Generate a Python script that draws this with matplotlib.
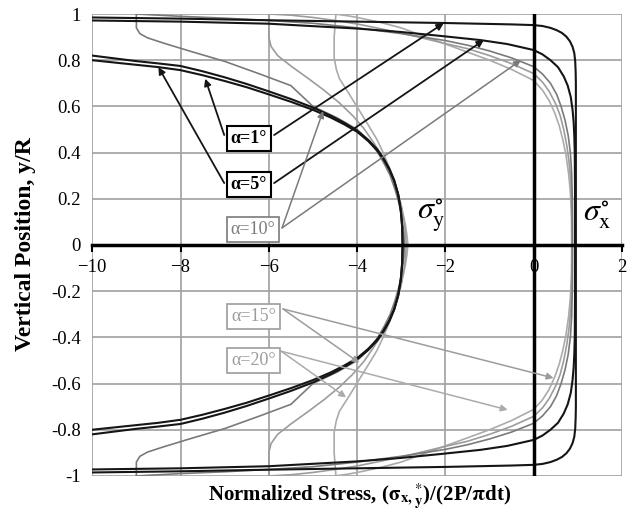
import matplotlib
matplotlib.use('Agg')
import matplotlib.pyplot as plt

plt.rcParams['font.family'] = ['Liberation Serif', 'DejaVu Serif']
plt.rcParams['mathtext.fontset'] = 'stix'

# sigma_y along the loaded diameter (upper half, mirrored below)
sy1_x = [-10, -9.5, -9, -8.5, -8, -7.5, -7, -6.5, -6, -5.5, -5, -4.6, -4.3, -4.0, -3.75, -3.55, -3.4, -3.27, -3.16, -3.07, -3.01, -2.98, -2.97]
sy1_y = [0.82, 0.808, 0.796, 0.786, 0.775, 0.752, 0.726, 0.697, 0.665, 0.632, 0.595, 0.56, 0.53, 0.495, 0.455, 0.415, 0.375, 0.33, 0.28, 0.22, 0.15, 0.08, 0.0]
sy5_x = [-10, -9.5, -9, -8.5, -8, -7.5, -7, -6.5, -6, -5.5, -5, -4.6, -4.3, -4.0, -3.75, -3.55, -3.4, -3.27, -3.16, -3.07, -3.01, -2.98, -2.97]
sy5_y = [0.80, 0.79, 0.78, 0.77, 0.757, 0.735, 0.71, 0.683, 0.652, 0.62, 0.585, 0.552, 0.523, 0.49, 0.45, 0.41, 0.37, 0.326, 0.277, 0.218, 0.148, 0.079, 0.0]
sy10_x = [-9.0, -9.0, -8.92, -8.75, -8.4, -7.8, -7.0, -6.2, -5.5, -5.0, -4.45, -4.0, -3.72, -3.53, -3.38, -3.25, -3.14, -3.05, -2.98, -2.94, -2.93]
sy10_y = [1.0, 0.94, 0.915, 0.897, 0.875, 0.84, 0.795, 0.74, 0.69, 0.60, 0.55, 0.50, 0.45, 0.40, 0.35, 0.30, 0.24, 0.18, 0.11, 0.05, 0.0]
sy15_x = [-6.0, -6.0, -5.95, -5.8, -5.5, -5.1, -4.75, -4.4, -4.1, -3.85, -3.65, -3.48, -3.33, -3.21, -3.1, -3.01, -2.94, -2.9, -2.89]
sy15_y = [1.0, 0.90, 0.86, 0.82, 0.775, 0.72, 0.67, 0.615, 0.56, 0.505, 0.45, 0.40, 0.35, 0.30, 0.24, 0.18, 0.11, 0.05, 0.0]
sy20_x = [-4.48, -4.52, -4.52, -4.47, -4.4, -4.2, -3.96, -3.75, -3.56, -3.41, -3.28, -3.16, -3.06, -2.98, -2.91, -2.87, -2.85]
sy20_y = [1.0, 0.9, 0.81, 0.76, 0.72, 0.66, 0.585, 0.52, 0.46, 0.40, 0.34, 0.28, 0.21, 0.15, 0.09, 0.04, 0.0]

# sigma_x along the loaded diameter (upper half, mirrored below)
sx1_x = [-10, -8, -6, -4, -2, -1, -0.5, 0, 0.2, 0.38, 0.52, 0.64, 0.74, 0.82, 0.88, 0.92, 0.94, 0.95, 0.955, 0.955, 0.955]
sx1_y = [0.985, 0.98, 0.973, 0.967, 0.961, 0.957, 0.955, 0.952, 0.948, 0.94, 0.93, 0.918, 0.902, 0.882, 0.858, 0.83, 0.795, 0.75, 0.70, 0.40, 0.0]
sx5_x = [-10, -8, -6, -4, -3, -2.1, -1.2, -0.6, 0, 0.2, 0.38, 0.55, 0.68, 0.77, 0.84, 0.88, 0.905, 0.92, 0.93, 0.935, 0.935]
sx5_y = [0.972, 0.967, 0.958, 0.937, 0.922, 0.905, 0.887, 0.87, 0.844, 0.825, 0.80, 0.77, 0.73, 0.69, 0.64, 0.585, 0.53, 0.47, 0.40, 0.25, 0.0]
sx10_x = [-9, -8, -7, -6, -5, -4, -3, -2, -1.5, -1, -0.5, 0, 0.2, 0.38, 0.52, 0.62, 0.71, 0.78, 0.83, 0.86, 0.875, 0.88]
sx10_y = [1.0, 0.99, 0.982, 0.972, 0.96, 0.94, 0.915, 0.885, 0.865, 0.84, 0.81, 0.772, 0.74, 0.70, 0.652, 0.60, 0.54, 0.475, 0.40, 0.31, 0.19, 0.0]
sx15_x = [-6, -5.5, -5, -4.5, -4, -3, -2, -1.5, -1, -0.5, 0, 0.2, 0.35, 0.5, 0.6, 0.68, 0.75, 0.8, 0.84, 0.865, 0.87]
sx15_y = [1.0, 0.995, 0.985, 0.972, 0.957, 0.918, 0.872, 0.85, 0.82, 0.785, 0.742, 0.705, 0.665, 0.61, 0.56, 0.50, 0.43, 0.36, 0.28, 0.16, 0.0]
sx20_x = [-4.5, -4.2, -4, -3.5, -3, -2.5, -2, -1.5, -1, -0.5, 0, 0.2, 0.35, 0.48, 0.58, 0.66, 0.73, 0.79, 0.83, 0.855, 0.86]
sx20_y = [1.0, 0.992, 0.985, 0.965, 0.94, 0.905, 0.87, 0.835, 0.80, 0.76, 0.712, 0.67, 0.625, 0.57, 0.515, 0.455, 0.39, 0.31, 0.23, 0.12, 0.0]

labels = ['α=1°', 'α=5°', 'α=10°', 'α=15°', 'α=20°']
label_pos = [(-6.45, 0.463), (-6.45, 0.26), (-6.36, 0.068), (-6.35, -0.31), (-6.35, -0.50)]
arrow_from = [(-7.01, 0.476), (-5.88, 0.476), (-7.01, 0.268), (-5.88, 0.268),
              (-5.70, 0.074), (-5.70, 0.074), (-5.68, -0.277), (-5.68, -0.277),
              (-5.72, -0.46), (-5.72, -0.46)]
arrow_to = [(-7.44, 0.72), (-2.04, 0.96), (-8.5, 0.77), (-1.13, 0.887),
            (-4.77, 0.58), (-0.29, 0.80), (0.45, -0.576), (-3.95, -0.51),
            (-4.25, -0.66), (-0.59, -0.714)]
arrow_owner = [0, 0, 1, 1, 2, 2, 3, 3, 4, 4]

line_col = ['#151515', '#151515', '#7a7a7a', '#9c9c9c', '#ababab']
text_col = ['black', 'black', '#7a7a7a', '#9c9c9c', '#9c9c9c']

fig = plt.figure(figsize=(6.36, 5.19), dpi=100)
ax = fig.add_axes([0.145, 0.083, 0.833, 0.890])
ax.set_xlim(-10, 2)
ax.set_ylim(-1, 1)

curves = [(sy1_x, sy1_y, sx1_x, sx1_y), (sy5_x, sy5_y, sx5_x, sx5_y),
          (sy10_x, sy10_y, sx10_x, sx10_y), (sy15_x, sy15_y, sx15_x, sx15_y),
          (sy20_x, sy20_y, sx20_x, sx20_y)]
for i in [4, 3, 2, 1, 0]:
    ax_, ay_, bx_, by_ = curves[i]
    lw = 1.5 if i < 2 else 1.2
    for xs, ys in [(ax_, ay_), (bx_, by_)]:
        ax.plot(xs, ys, color=line_col[i], lw=lw, zorder=3, solid_joinstyle='round')
        ax.plot(xs, [-v for v in ys], color=line_col[i], lw=lw, zorder=3, solid_joinstyle='round')

# grid and axes
ax.set_xticks([-10, -8, -6, -4, -2, 0, 2])
ax.set_yticks([-1, -0.8, -0.6, -0.4, -0.2, 0, 0.2, 0.4, 0.6, 0.8, 1])
ax.set_yticklabels(['-1', '-0.8', '-0.6', '-0.4', '-0.2', '0', '0.2', '0.4', '0.6', '0.8', '1'])
ax.grid(True, color='#a0a0a0', lw=1.2, zorder=0)
for s in ['top', 'right', 'left']:
    ax.spines[s].set_visible(False)
ax.spines['bottom'].set_position(('data', 0))
ax.spines['bottom'].set_linewidth(2.5)
ax.spines['bottom'].set_zorder(4)
ax.axvline(0, color='black', lw=2.5, zorder=4)
ax.tick_params(axis='x', direction='out', length=5, width=1.5, labelsize=13.5, pad=5)
ax.tick_params(axis='y', length=0, labelsize=13.5, pad=8)

for k in range(len(arrow_from)):
    i = arrow_owner[k]
    ax.annotate('', xy=arrow_to[k], xytext=arrow_from[k],
                arrowprops=dict(arrowstyle='-|>', color=line_col[i], lw=1.3 if i < 2 else 1.1,
                                mutation_scale=10, shrinkA=0, shrinkB=0), zorder=5)

for i, lab in enumerate(labels):
    ax.text(label_pos[i][0], label_pos[i][1], lab, ha='center', va='center',
            fontsize=13, color=text_col[i], fontweight='bold' if i < 2 else 'normal', zorder=6,
            bbox=dict(boxstyle='square,pad=0.22', fc='white', ec=text_col[i], lw=1.5 if i < 2 else 1.2))

ax.text(-2.65, 0.13, r'$\sigma^{\circ}_{\mathrm{y}}$', fontsize=23, ha='left', va='center', zorder=6)
ax.text(1.12, 0.13, r'$\sigma^{\circ}_{\mathrm{x}}$', fontsize=23, ha='left', va='center', zorder=6)

fig.text(0.565, 0.042, r'Normalized Stress, ($\mathbf{\sigma}_{\mathbf{x,}}{}^{*}_{\mathbf{y}}$)/(2P/$\mathbf{\pi}$dt)',
         ha='center', va='center', fontsize=15, fontweight='bold')
fig.text(0.04, 0.53, 'Vertical Position, y/R', rotation=90, ha='center', va='center',
         fontsize=17, fontweight='bold')

fig.savefig('out.png', dpi=100)
